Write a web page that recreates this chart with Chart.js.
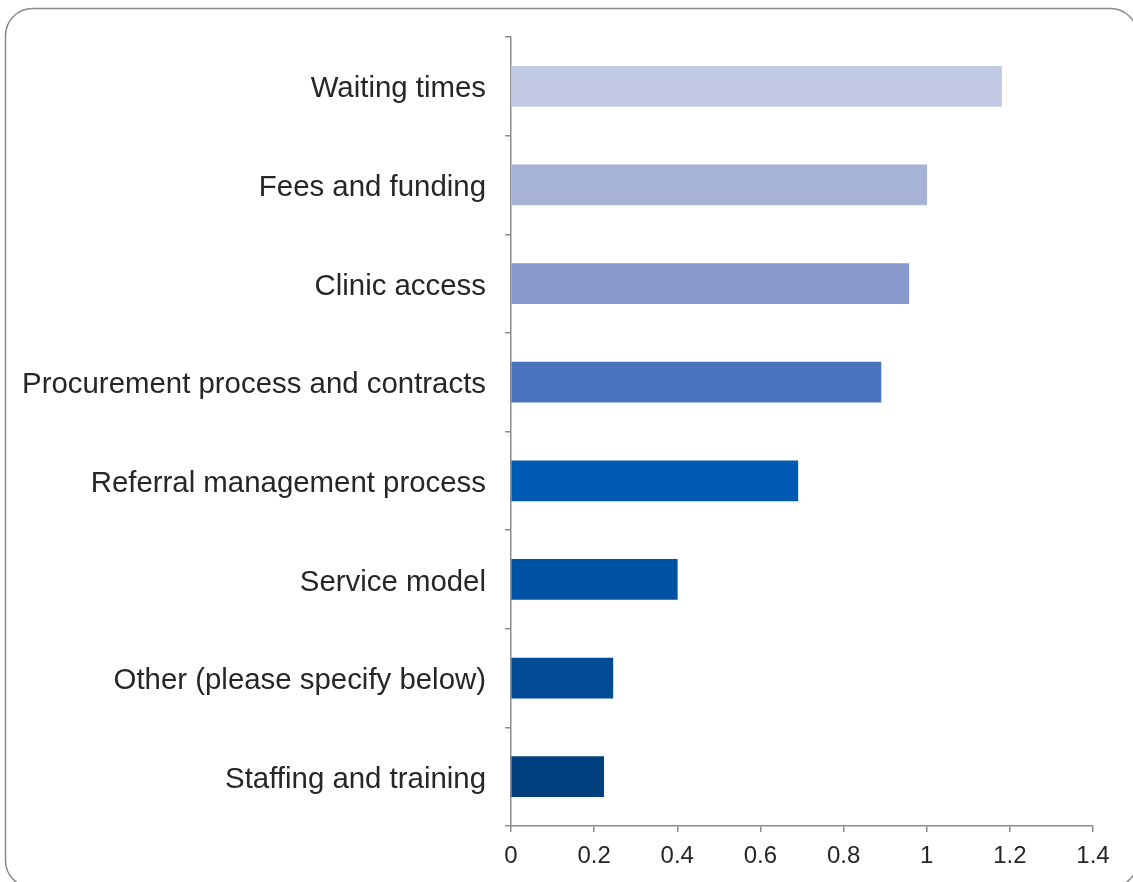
<!DOCTYPE html>
<html>
<head>
<meta charset="utf-8">
<title>Barriers ranking</title>
<script src="https://cdn.jsdelivr.net/npm/chart.js@4/dist/chart.umd.min.js"></script>
<style>
  html, body { margin: 0; padding: 0; background: #fff; overflow: hidden; }
  #chart { display: block; }
</style>
</head>
<body>
<canvas id="chart" width="1133" height="882"></canvas>
<script>
// Categories, top to bottom
const categories = [
    'Waiting times',
    'Fees and funding',
    'Clinic access',
    'Procurement process and contracts',
    'Referral management process',
    'Service model',
    'Other (please specify below)',
    'Staffing and training'
];

// Average score per category
const scores = [1.18, 1.0, 0.957, 0.89, 0.69, 0.40, 0.245, 0.223];

// One shade per bar, light lavender down to navy
const barColors = [
    '#C2CAE3', '#A6B3D6', '#8799CB', '#4A74BE',
    '#005BB2', '#0053A3', '#004B93', '#00407F'
];

// Value axis ticks
const xTicks = [0, 0.2, 0.4, 0.6, 0.8, 1, 1.2, 1.4];
const xTickLabels = ['0', '0.2', '0.4', '0.6', '0.8', '1', '1.2', '1.4'];

const axisGray = '#8c8c8c';
const textColor = '#262626';
const fontFamily = '"Liberation Sans", Arial, sans-serif';

// Rounded frame around the whole chart
const framePlugin = {
    id: 'frame',
    beforeDraw(chart) {
        const ctx = chart.ctx;
        ctx.save();
        ctx.strokeStyle = '#8a8a8a';
        ctx.lineWidth = 1.5;
        ctx.beginPath();
        ctx.roundRect(5.5, 8.5, 1132, 879, 27);
        ctx.stroke();
        ctx.restore();
    }
};

const chart = new Chart(document.getElementById('chart'), {
    type: 'bar',
    data: {
        labels: categories,
        datasets: [{
            data: scores,
            backgroundColor: barColors,
            borderWidth: 0,
            barThickness: 40
        }]
    },
    options: {
        indexAxis: 'y',
        responsive: false,
        animation: false,
        devicePixelRatio: 1,
        layout: {
            padding: { top: 37, right: 40, bottom: 0, left: 0 }
        },
        plugins: {
            legend: { display: false },
            tooltip: { enabled: false }
        },
        scales: {
            x: {
                type: 'linear',
                min: 0,
                max: 1.4,
                afterBuildTicks(scale) {
                    scale.ticks = xTicks.map(v => ({ value: v }));
                },
                afterFit(scale) {
                    scale.height = 56;
                },
                grid: {
                    drawOnChartArea: false,
                    drawTicks: true,
                    tickLength: 6,
                    color: axisGray,
                    lineWidth: 1.5
                },
                border: { color: axisGray, width: 1.5 },
                ticks: {
                    padding: 10,
                    color: textColor,
                    font: { family: fontFamily, size: 24 },
                    callback: (value, i) => xTickLabels[i]
                }
            },
            y: {
                afterFit(scale) {
                    scale.width = 511;
                },
                grid: {
                    offset: true,
                    drawOnChartArea: false,
                    drawTicks: true,
                    tickLength: 6,
                    color: axisGray,
                    lineWidth: 1.5
                },
                border: { color: axisGray, width: 1.5 },
                ticks: {
                    padding: 19,
                    labelOffset: 3,
                    color: textColor,
                    font: { family: fontFamily, size: 29.4 }
                }
            }
        }
    },
    plugins: [framePlugin]
});
</script>
</body>
</html>
